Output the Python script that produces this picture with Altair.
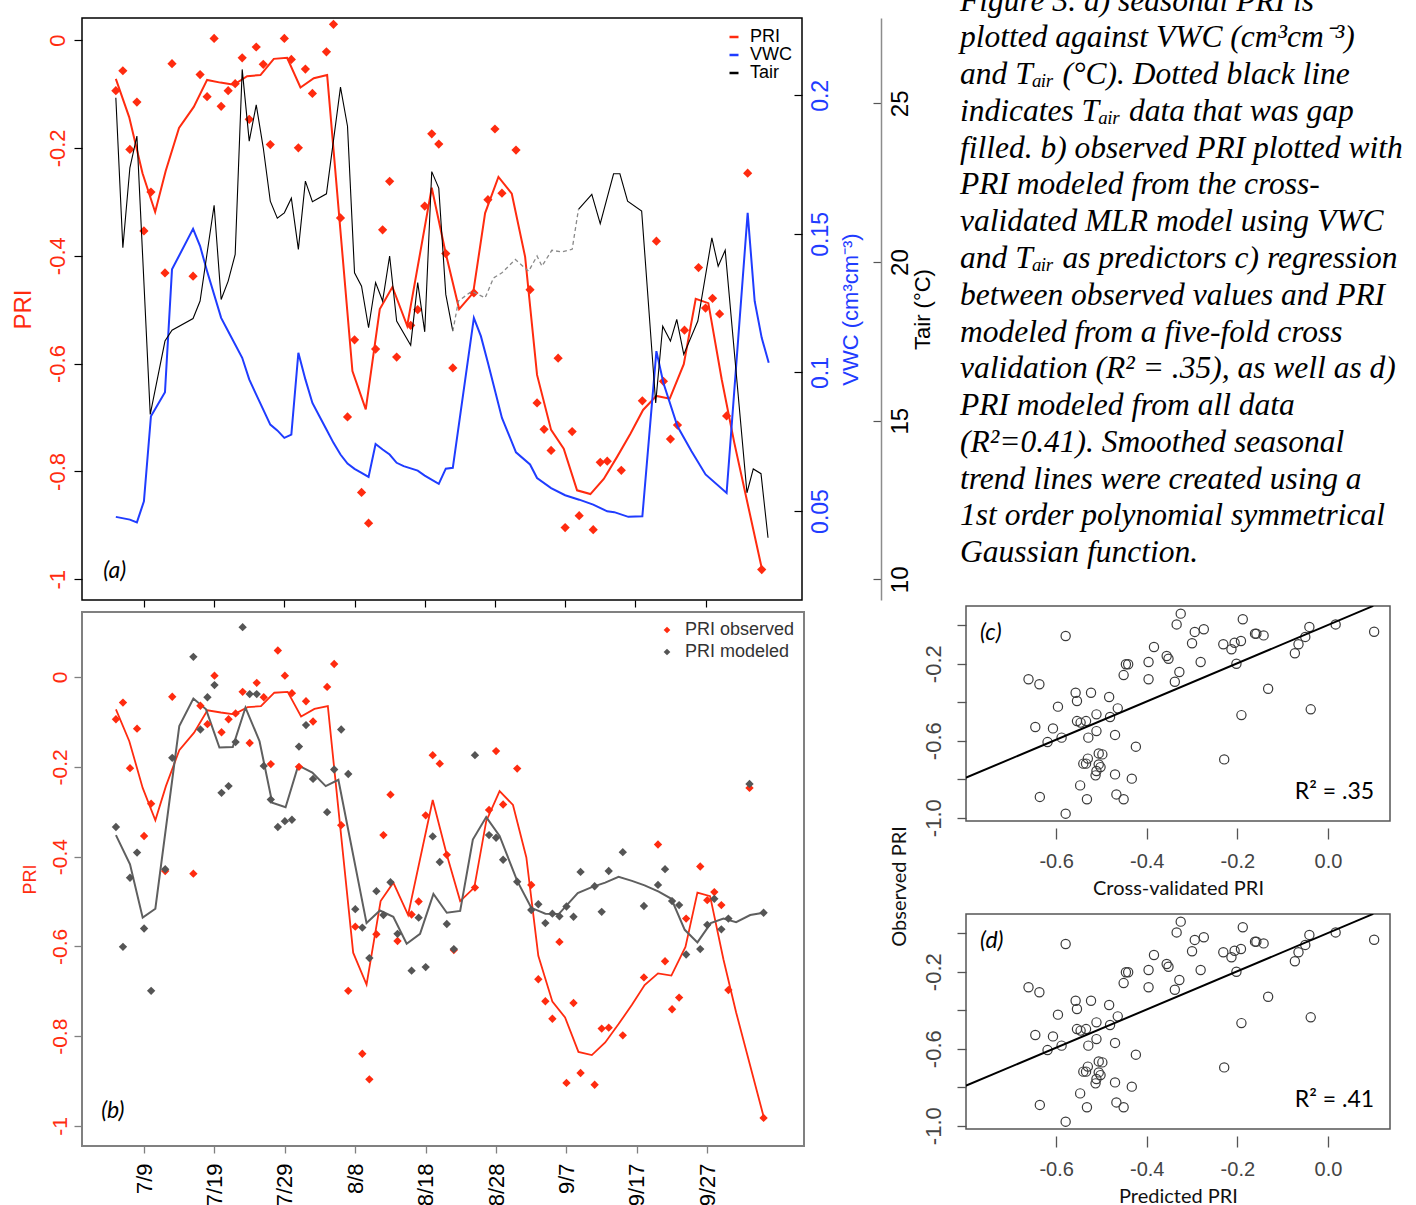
import altair as alt
import pandas as pd

RED = "#ff2b0f"
BLUE = "#1f3cff"
GRAY_PT = "#555555"
GRAY_LN = "#5f5f5f"
SANS = "Liberation Sans"
SERIF = "Liberation Serif"
HUM = "Lato"

# ---------------- data (day = days counted from June 30: 7/9 -> 9, 8/8 -> 39 ...) ----------------
tick_days = [9, 19, 29, 39, 49, 59, 69, 79, 89]
tick_labels = ["7/9", "7/19", "7/29", "8/8", "8/18", "8/28", "9/7", "9/17", "9/27"]

obs_day = [5, 6, 7, 8, 9, 10, 12, 13, 16, 17, 18, 19, 20, 21, 22, 23, 24, 25, 26, 27, 28, 29, 30, 31, 32, 33,
           35, 36, 37, 38, 39, 40, 41, 42, 43, 44, 45, 47, 48, 49, 50, 51, 52, 53, 56, 58, 59, 60, 62, 64, 65,
           66, 67, 68, 69, 70, 71, 73, 74, 75, 77, 80, 82, 83, 84, 85, 86, 88, 89, 90, 91, 92, 95, 97]
obs_pri = [-0.094, -0.057, -0.203, -0.115, -0.354, -0.282, -0.432, -0.044, -0.438, -0.064, -0.105, 0.003,
           -0.123, -0.094, -0.081, -0.033, -0.147, -0.013, -0.045, -0.194, 0.059, 0.003, -0.036, -0.200,
           -0.054, -0.099, -0.022, 0.029, -0.330, -0.699, -0.556, -0.839, -0.896, -0.573, -0.352, -0.262,
           -0.588, -0.529, -0.500, -0.308, -0.174, -0.193, -0.396, -0.608, -0.469, -0.296, -0.165, -0.284,
           -0.204, -0.463, -0.673, -0.722, -0.761, -0.590, -0.904, -0.726, -0.882, -0.908, -0.783, -0.781,
           -0.798, -0.669, -0.373, -0.633, -0.740, -0.714, -0.538, -0.422, -0.497, -0.479, -0.508, -0.697,
           -0.247, -0.982]
mod_pri = [-0.334, -0.601, -0.447, -0.391, -0.560, -0.699, -0.428, -0.180, 0.045, -0.117, -0.045, -0.018,
           -0.258, -0.243, -0.145, 0.111, -0.038, -0.038, -0.198, -0.273, -0.334, -0.321, -0.318, -0.155,
           -0.107, -0.227, -0.301, -0.206, -0.117, -0.216, -0.517, -0.558, -0.626, -0.477, -0.530, -0.457,
           -0.572, -0.654, -0.536, -0.646, -0.355, -0.412, -0.550, -0.606, -0.174, -0.352, -0.358, -0.407,
           -0.456, -0.519, -0.506, -0.548, -0.527, -0.533, -0.511, -0.534, -0.434, -0.466, -0.523, -0.432,
           -0.390, -0.510, -0.463, -0.428, -0.499, -0.508, -0.618, -0.606, -0.552, -0.494, -0.562, -0.538,
           -0.238, -0.525]

smooth_obs_day = [5.0, 6.9, 8.8, 10.6, 12.1, 14.0, 16.1, 18.0, 19.9, 21.8, 23.7, 25.6, 27.5, 29.4, 31.3, 33.2,
                  35.1, 38.7, 40.6, 42.6, 44.4, 46.5, 50.0, 52.0, 53.9, 55.9, 57.6, 59.5, 61.4, 63.3, 65.0,
                  67.0, 68.8, 70.7, 72.6, 74.5, 76.4, 78.3, 80.1, 82.0, 83.9, 85.9, 87.6, 89.4, 91.3, 93.1, 97.0]
smooth_obs_pri = [-0.072, -0.143, -0.247, -0.319, -0.243, -0.163, -0.124, -0.074, -0.079, -0.083, -0.067,
                  -0.065, -0.035, -0.033, -0.088, -0.071, -0.065, -0.614, -0.685, -0.499, -0.458, -0.530,
                  -0.274, -0.396, -0.499, -0.469, -0.321, -0.254, -0.285, -0.402, -0.621, -0.723, -0.758,
                  -0.835, -0.842, -0.814, -0.773, -0.730, -0.686, -0.660, -0.665, -0.601, -0.480, -0.488,
                  -0.629, -0.747, -0.979]

smooth_mod_day = [5.0, 7.0, 8.8, 10.6, 14.0, 16.0, 17.8, 19.7, 21.6, 23.4, 25.4, 27.2, 29.1, 30.9, 32.9, 34.8,
                  36.6, 40.6, 42.5, 44.4, 46.3, 48.2, 50.1, 52.0, 53.9, 55.7, 57.6, 59.5, 62.0, 64.0, 66.0,
                  67.9, 70.6, 72.6, 74.5, 76.4, 78.3, 80.1, 82.1, 83.9, 85.8, 87.6, 89.5, 91.3, 93.1, 95.1, 97.0]
smooth_mod_pri = [-0.352, -0.417, -0.536, -0.516, -0.109, -0.048, -0.072, -0.157, -0.156, -0.068, -0.143,
                  -0.280, -0.290, -0.197, -0.213, -0.243, -0.229, -0.548, -0.520, -0.534, -0.594, -0.572,
                  -0.483, -0.525, -0.521, -0.362, -0.312, -0.354, -0.454, -0.514, -0.527, -0.528, -0.481,
                  -0.468, -0.458, -0.445, -0.454, -0.464, -0.478, -0.494, -0.563, -0.591, -0.548, -0.538,
                  -0.546, -0.530, -0.525]

vwc_day = [5, 7, 8, 9, 10, 12, 13, 16, 17, 18, 20, 21, 23, 24, 25, 26, 27, 28, 29, 30, 31, 32, 33, 34, 35, 36,
           37, 38, 39, 40, 41, 42, 43, 44, 45, 46, 48, 49, 51, 52, 53, 56, 57, 58, 60, 62, 64, 65, 67, 69, 71,
           73, 75, 76, 78, 80, 82, 83, 85, 87, 89, 92, 95, 96, 97, 98]
vwc_val = [0.0479, 0.0469, 0.0459, 0.0535, 0.0842, 0.0929, 0.1372, 0.1518, 0.1456, 0.1365, 0.1197, 0.1149,
           0.1053, 0.0975, 0.0920, 0.0866, 0.0812, 0.0791, 0.0764, 0.0776, 0.1071, 0.0975, 0.0890, 0.0842,
           0.0794, 0.0746, 0.0704, 0.0671, 0.0652, 0.0638, 0.0623, 0.0742, 0.0722, 0.0704, 0.0674, 0.0662,
           0.0646, 0.0628, 0.0598, 0.0653, 0.0656, 0.1197, 0.1131, 0.1035, 0.0836, 0.0712, 0.0668, 0.0619,
           0.0583, 0.0557, 0.0541, 0.0523, 0.0499, 0.0496, 0.0479, 0.0481, 0.1077, 0.0962, 0.0806, 0.0716,
           0.0632, 0.0565, 0.1576, 0.1257, 0.1125, 0.1035]

# measured air temperature, two segments around the gap
tair_day = [5, 6, 7, 8, 9.9, 12, 13, 16, 17, 19, 20, 21, 22, 23, 24, 25, 26, 27, 28, 29, 30, 31, 32, 33, 35,
            37, 38, 39, 40, 41, 42, 43, 44, 45, 47, 48, 49, 50, 51, 52, 53,
            70.9, 72.8, 74.0, 75.9, 76.8, 77.9, 79.9, 81.9, 82.9, 84.0, 84.9, 85.9, 87.9, 89.9, 90.8, 91.8,
            94.9, 95.8, 96.9, 97.9]
tair_val = [25.18, 20.45, 22.97, 23.97, 15.20, 17.51, 17.85, 18.22, 18.77, 21.79, 18.82, 19.40, 20.24, 26.07,
            23.81, 24.95, 23.60, 21.92, 21.38, 21.55, 22.01, 20.40, 22.55, 21.90, 22.15, 25.51, 24.28, 19.66,
            19.24, 17.93, 19.35, 18.77, 20.19, 18.14, 17.38, 19.35, 17.80, 22.85, 22.33, 18.98, 17.82,
            21.66, 22.13, 21.21, 22.78, 22.78, 21.92, 21.61, 15.56, 17.98, 17.51, 18.19, 17.09, 18.14, 20.76,
            19.87, 20.37, 12.73, 13.48, 13.33, 11.31]
tair_seg = ["A"] * 41 + ["B"] * 20

# gap-filled air temperature (dotted)
gap_day = [53.0, 53.8, 55.7, 57.6, 58.8, 60.0, 61.9, 63.8, 65.0, 65.7, 67.1, 68.5, 70.0, 70.9]
gap_val = [17.82, 18.77, 19.08, 18.87, 19.50, 19.66, 20.08, 19.71, 20.19, 19.87, 20.37, 20.32, 20.40, 21.66]

# regression panels (c) and (d): modeled vs observed PRI
sc_x = [-0.661, -0.637, -0.579, -0.557, -0.554, -0.523, -0.596, -0.483, -0.464, -0.481, -0.511, -0.554, -0.546,
        -0.534, -0.646, -0.607, -0.619, -0.588, -0.529, -0.511, -0.470, -0.424, -0.506, -0.498, -0.530, -0.540,
        -0.534, -0.506, -0.502, -0.511, -0.513, -0.470, -0.433, -0.547, -0.636, -0.532, -0.467, -0.451, -0.579,
        -0.451, -0.446, -0.441, -0.396, -0.396, -0.384, -0.356, -0.352, -0.338, -0.328, -0.334, -0.325, -0.300,
        -0.294, -0.274, -0.281, -0.231, -0.213, -0.206, -0.192, -0.188, -0.202, -0.161, -0.158, -0.142, -0.191,
        -0.229, -0.132, -0.073, -0.065, -0.050, -0.041, -0.038, 0.017, 0.102]
sc_y = [-0.281, -0.307, -0.056, -0.351, -0.394, -0.351, -0.423, -0.373, -0.432, -0.477, -0.463, -0.498, -0.506,
        -0.498, -0.529, -0.536, -0.607, -0.584, -0.584, -0.550, -0.570, -0.631, -0.666, -0.671, -0.693, -0.719,
        -0.719, -0.723, -0.737, -0.757, -0.780, -0.775, -0.797, -0.832, -0.892, -0.904, -0.879, -0.904, -0.979,
        -0.259, -0.203, -0.203, -0.191, -0.281, -0.113, -0.160, -0.174, -0.294, -0.243, 0.004, 0.060, -0.094,
        -0.035, -0.021, -0.191, -0.099, -0.125, -0.091, -0.082, 0.031, -0.200, -0.044, -0.044, -0.053, -0.467,
        -0.697, -0.330, -0.146, -0.099, -0.061, -0.009, -0.437, 0.004, -0.034]
reg_x = [-0.80, 0.10]
reg_y = [-0.793, 0.100]

caption_lines = [
    "Figure 3.  a) seasonal PRI is",
    "plotted against VWC (cm\u00b3cm\u207b\u00b3)",
    "and T\u2090\u1d62\u1d63 (\u00b0C).  Dotted black line",
    "indicates T\u2090\u1d62\u1d63 data that was gap",
    "filled. b) observed PRI plotted with",
    "PRI modeled from the cross-",
    "validated MLR model using VWC",
    "and T\u2090\u1d62\u1d63 as predictors c) regression",
    "between observed values and PRI",
    "modeled from a five-fold cross",
    "validation (R\u00b2 = .35), as well as d)",
    "PRI modeled from all data",
    "(R\u00b2=0.41). Smoothed seasonal",
    "trend lines were created using a",
    "1st order polynomial symmetrical",
    "Gaussian function.",
]

# ---------------- tables ----------------
df_obs = pd.DataFrame({"day": obs_day, "pri": obs_pri})
df_mod = pd.DataFrame({"day": obs_day, "pri": mod_pri})
df_sobs = pd.DataFrame({"day": smooth_obs_day, "pri": smooth_obs_pri})
df_smod = pd.DataFrame({"day": smooth_mod_day, "pri": smooth_mod_pri})
df_vwc = pd.DataFrame({"day": vwc_day, "vwc": vwc_val})
df_tair = pd.DataFrame({"day": tair_day, "tair": tair_val, "seg": tair_seg})
df_gap = pd.DataFrame({"day": gap_day, "tair": gap_val})
df_sc = pd.DataFrame({"x": sc_x, "y": sc_y})
df_reg = pd.DataFrame({"x": reg_x, "y": reg_y})
df_cap = pd.DataFrame({"line": list(range(len(caption_lines))), "text": caption_lines})
df_tag_a = pd.DataFrame({"day": [3.2], "pri": [-0.985], "t": ["(a)"]})
df_tag_b = pd.DataFrame({"day": [2.9], "pri": [-0.967], "t": ["(b)"]})


def minus_fix(fmt):
    return "replace(format(datum.value, '%s'), '\u2212', '-')" % fmt


DATE_EXPR = ("[" + ",".join("'%s'" % s for s in tick_labels) + "][indexof(["
             + ",".join(str(d) for d in tick_days) + "], datum.value)]")

xs = alt.Scale(domain=[0.18, 102.74], nice=False, zero=False)

# ---------------- panel (a) ----------------
xa = alt.X("day:Q", scale=xs, axis=alt.Axis(values=tick_days, labels=False, tickSize=7, tickColor="black",
                                            tickWidth=1.2, domain=False, grid=False, title=None))
ya_scale = alt.Scale(domain=[-1.0384, 0.0408], nice=False, zero=False)
ya_axis = alt.Axis(orient="left", values=[0, -0.2, -0.4, -0.6, -0.8, -1], labelExpr=minus_fix("~g"),
                   labelAngle=270, labelAlign="center", labelBaseline="bottom", labelFont=SANS,
                   labelFontSize=22, labelColor=RED, labelPadding=5, labelOverlap=False, labelFlush=False,
                   tickSize=8, tickColor="black", tickWidth=1.2, domain=False, grid=False,
                   title="PRI", titleFont=SANS, titleFontSize=24, titleFontWeight="normal", titleColor=RED,
                   titleAngle=270, titleBaseline="bottom", titlePadding=11)
ya = alt.Y("pri:Q", scale=ya_scale, axis=ya_axis)

color_a = alt.Scale(domain=["PRI", "VWC", "Tair"], range=[RED, BLUE, "black"])
legend_a = alt.Legend(title=None, orient="top-right", offset=10, symbolType="stroke", symbolSize=81,
                      symbolStrokeWidth=2.5, labelFont=SANS, labelFontSize=18, labelColor="black",
                      rowPadding=0, padding=0, labelOffset=7)
ca = alt.Color("series:N", scale=color_a, legend=legend_a)

a_line = alt.Chart(df_sobs).transform_calculate(series="'PRI'").mark_line(strokeWidth=2, clip=True).encode(
    x=xa, y=ya, color=ca)
a_pts = alt.Chart(df_obs).transform_calculate(series="'PRI'").mark_point(
    shape="diamond", filled=True, size=85, opacity=1, clip=True).encode(x=xa, y=ya, color=ca)
a_tag = alt.Chart(df_tag_a).mark_text(align="left", baseline="middle", font=HUM, fontStyle="italic",
                                      fontSize=23, color="black").encode(x=xa, y=ya, text="t:N")

vwc_axis = alt.Axis(orient="right", offset=-8, values=[0.05, 0.1, 0.15, 0.2], labelExpr=minus_fix("~g"),
                    labelAngle=270, labelAlign="center", labelBaseline="top", labelFont=SANS,
                    labelFontSize=23, labelColor=BLUE, labelPadding=7, labelOverlap=False, labelFlush=False,
                    tickSize=8, tickColor="black", tickWidth=1.2, domain=False, grid=False,
                    title="VWC (cm\u00b3cm\u207b\u00b3)", titleFont=SANS, titleFontSize=22,
                    titleFontWeight="normal", titleColor=BLUE, titleAngle=270, titleBaseline="top",
                    titlePadding=8)
a_vwc = alt.Chart(df_vwc).transform_calculate(series="'VWC'").mark_line(strokeWidth=2, clip=True).encode(
    x=xa, y=alt.Y("vwc:Q", scale=alt.Scale(domain=[0.0179, 0.2279], nice=False, zero=False), axis=vwc_axis),
    color=ca)

tair_scale = alt.Scale(domain=[9.35, 27.69], nice=False, zero=False)
tair_axis = alt.Axis(orient="right", offset=71, values=[10, 15, 20, 25], labelAngle=270, labelAlign="center",
                     labelBaseline="top", labelFont=SANS, labelFontSize=24, labelColor="black",
                     labelPadding=7, labelOverlap=False, labelFlush=False, tickSize=8, tickColor="#555555",
                     tickWidth=1.2, domain=False, grid=False, title="Tair (\u00b0C)", titleFont=SANS,
                     titleFontSize=22, titleFontWeight="normal", titleColor="black", titleAngle=270,
                     titleBaseline="top", titlePadding=0)
tair_line_axis = alt.Axis(orient="right", offset=79, labels=False, ticks=False, domain=True,
                          domainColor="#8c8c8c", domainWidth=1.5, grid=False, title=None)
a_tair = alt.Chart(df_tair).transform_calculate(series="'Tair'").mark_line(strokeWidth=1.1, clip=True).encode(
    x=xa, y=alt.Y("tair:Q", scale=tair_scale, axis=tair_axis), color=ca, detail="seg:N")
a_gap = alt.Chart(df_gap).mark_line(strokeWidth=1.3, strokeDash=[4, 3], color="#8a8a8a", clip=True).encode(
    x=xa, y=alt.Y("tair:Q", scale=tair_scale, axis=tair_line_axis))

panel_a = alt.layer(alt.layer(a_line, a_pts, a_tag), a_vwc, a_tair, a_gap).resolve_scale(
    y="independent").properties(width=720, height=582,
                                view=alt.ViewBackground(stroke="black", strokeWidth=1.5))

# ---------------- panel (b) ----------------
xb = alt.X("day:Q", scale=xs, axis=alt.Axis(values=tick_days, labelExpr=DATE_EXPR, labelAngle=270,
                                            labelAlign="right", labelBaseline="middle", labelFont=SANS,
                                            labelFontSize=22, labelColor="black", labelPadding=10,
                                            labelOverlap=False, labelFlush=False, tickSize=7,
                                            tickColor="#808080", tickWidth=1.3, domain=False, grid=False,
                                            title=None))
yb_scale = alt.Scale(domain=[-1.0445, 0.1448], nice=False, zero=False)
yb_axis = alt.Axis(orient="left", values=[0, -0.2, -0.4, -0.6, -0.8, -1], labelExpr=minus_fix("~g"),
                   labelAngle=270, labelAlign="center", labelBaseline="bottom", labelFont=SANS,
                   labelFontSize=21, labelColor=RED, labelPadding=4, labelOverlap=False, labelFlush=False,
                   tickSize=8, tickColor="#808080", tickWidth=1.3, domain=False, grid=False,
                   title="PRI", titleFont=SANS, titleFontSize=18, titleFontWeight="normal", titleColor=RED,
                   titleAngle=270, titleBaseline="bottom", titlePadding=10)
yb = alt.Y("pri:Q", scale=yb_scale, axis=yb_axis)
color_b = alt.Scale(domain=["PRI observed", "PRI modeled"], range=[RED, GRAY_PT])
legend_b = alt.Legend(title=None, orient="top-right", offset=9, symbolType="diamond", symbolSize=45,
                      labelFont=SANS, labelFontSize=18, labelColor="#333333", rowPadding=4, padding=0,
                      labelOffset=9)
cb = alt.Color("series:N", scale=color_b, legend=legend_b)

b_line_obs = alt.Chart(df_sobs).mark_line(strokeWidth=1.8, color=RED, clip=True).encode(x=xb, y=yb)
b_line_mod = alt.Chart(df_smod).mark_line(strokeWidth=2, color=GRAY_LN, clip=True).encode(x=xb, y=yb)
b_obs = alt.Chart(df_obs).transform_calculate(series="'PRI observed'").mark_point(
    shape="diamond", filled=True, size=70, opacity=1, clip=True).encode(x=xb, y=yb, color=cb)
b_mod = alt.Chart(df_mod).transform_calculate(series="'PRI modeled'").mark_point(
    shape="diamond", filled=True, size=70, opacity=1, clip=True).encode(x=xb, y=yb, color=cb)
b_tag = alt.Chart(df_tag_b).mark_text(align="left", baseline="middle", font=HUM, fontStyle="italic",
                                      fontSize=23, color="black").encode(x=xb, y=yb, text="t:N")

panel_b = alt.layer(b_line_obs, b_line_mod, b_obs, b_mod, b_tag).properties(
    width=722, height=534, view=alt.ViewBackground(stroke="#808080", strokeWidth=2))

# ---------------- caption ----------------
caption = alt.Chart(df_cap).mark_text(align="left", baseline="middle", font=SERIF, fontStyle="italic",
                                      fontSize=31.5, color="black", dx=-6).encode(
    x=alt.value(0),
    y=alt.Y("line:Q", scale=alt.Scale(domain=[0.4486, 13.907], reverse=True, nice=False, zero=False),
            axis=None),
    text="text:N").properties(width=424, height=495, view=alt.ViewBackground(stroke="transparent"))


# ---------------- panels (c) and (d) ----------------
def scatter(tag, r2_text, xtitle, show_ytitle):
    sx = alt.Scale(domain=[-0.799, 0.137], nice=False, zero=False)
    sy = alt.Scale(domain=[-1.017, 0.0997], nice=False, zero=False)
    xax = alt.Axis(values=[-0.6, -0.4, -0.2, 0.0], labelExpr=minus_fix(".1f"), offset=7, tickSize=11,
                   tickColor="#555555", tickWidth=1.3, domain=False, grid=False, labelFont=SANS,
                   labelFontSize=20, labelColor="#444444", labelPadding=12, labelFlush=False,
                   labelOverlap=False, title=xtitle, titleFont=HUM, titleFontSize=20,
                   titleFontWeight="normal", titleColor="#111111", titlePadding=7)
    ykw = dict(values=[-1.0, -0.8, -0.6, -0.4, -0.2, 0.0],
               labelExpr="round(abs(datum.value)*10) % 4 == 2 ? " + minus_fix(".1f") + " : ''",
               labelAngle=270, labelAlign="center", labelBaseline="bottom", labelFont=SANS,
               labelFontSize=22, labelColor="#444444", labelPadding=12, labelOverlap=False,
               labelFlush=False, tickSize=9, tickColor="#555555", tickWidth=1.3, domain=False, grid=False)
    if show_ytitle:
        yax = alt.Axis(title="Observed PRI", titleFont=HUM, titleFontSize=20, titleFontWeight="normal",
                       titleColor="#111111", titleAngle=270, titleBaseline="bottom", titlePadding=13,
                       titleY=280, **ykw)
    else:
        yax = alt.Axis(title=None, **ykw)
    X = alt.X("x:Q", scale=sx, axis=xax)
    Y = alt.Y("y:Q", scale=sy, axis=yax)
    pts = alt.Chart(df_sc).mark_point(shape="circle", filled=False, size=85, stroke="#3a3a3a",
                                      strokeWidth=1.2, opacity=1, clip=True).encode(x=X, y=Y)
    reg = alt.Chart(df_reg).mark_line(color="black", strokeWidth=2, clip=True).encode(x=X, y=Y)
    t1 = alt.Chart(pd.DataFrame({"x": [-0.768], "y": [-0.04], "t": [tag]})).mark_text(
        align="left", baseline="middle", font=HUM, fontStyle="italic", fontSize=23, color="black").encode(
        x=X, y=Y, text="t:N")
    t2 = alt.Chart(pd.DataFrame({"x": [0.102], "y": [-0.866], "t": [r2_text]})).mark_text(
        align="right", baseline="middle", font=HUM, fontSize=23, color="black").encode(x=X, y=Y, text="t:N")
    return alt.layer(pts, reg, t1, t2).properties(
        width=424, height=215, view=alt.ViewBackground(stroke="#555555", strokeWidth=1.5))


panel_c = scatter("(c)", "R\u00b2 = .35", "Cross-validated PRI", True)
panel_d = scatter("(d)", "R\u00b2 = .41", "Predicted PRI", False)

left = alt.vconcat(panel_a, panel_b, spacing=12, bounds="flush").resolve_scale(
    color="independent", x="independent", y="independent")
right = alt.vconcat(caption, panel_c, panel_d, spacing=93, bounds="flush").resolve_scale(
    x="independent", y="independent")

# the nested left column counts as zero width in a flush layout, so the gap spans the whole left panel
chart = alt.hconcat(left, right, spacing=884, bounds="flush").resolve_scale(
    color="independent", x="independent", y="independent").properties(
    padding={"left": 10, "top": -15, "right": 0, "bottom": 0}, background="white")

chart.save("out.html", embed_options={"renderer": "svg", "actions": False})
